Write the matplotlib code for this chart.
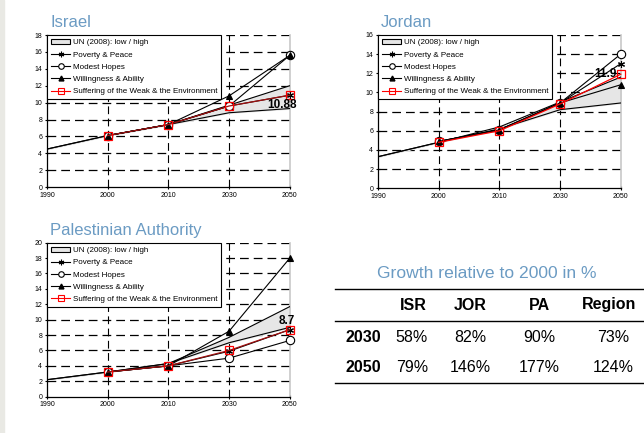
import matplotlib
matplotlib.use("Agg")
import matplotlib.pyplot as plt
from matplotlib.patches import Patch
from matplotlib.lines import Line2D
import numpy as np

plt.rcParams['font.family'] = ['Liberation Sans', 'DejaVu Sans']

years = ["1990", "2000", "2010", "2030", "2050"]

# Israel
isr_un_low = [4.5, 6.1, 7.4, 8.8, 9.3]
isr_un_high = [4.5, 6.1, 7.4, 9.7, 12.0]
isr_poverty = [None, 6.1, 7.4, 9.6, 10.88]
isr_modest = [None, 6.1, 7.4, 9.6, 15.6]
isr_willing = [None, 6.1, 7.4, 10.8, 15.6]
isr_suffer = [None, 6.1, 7.4, 9.6, 10.88]

# Jordan
jor_un_low = [3.3, 4.8, 6.2, 8.2, 8.9]
jor_un_high = [3.3, 4.8, 6.4, 9.0, 11.6]
jor_poverty = [None, 4.9, 6.1, 8.9, 13.0]
jor_modest = [None, 4.9, 6.1, 8.9, 14.0]
jor_willing = [None, 4.9, 6.1, 8.9, 10.8]
jor_suffer = [None, 4.8, 6.0, 8.8, 11.9]

# Palestinian Authority
pa_un_low = [2.2, 3.2, 4.3, 7.0, 9.0]
pa_un_high = [2.2, 3.2, 4.3, 7.7, 11.7]
pa_poverty = [None, 3.2, 4.0, 5.9, 8.7]
pa_modest = [None, 3.2, 4.0, 5.0, 7.3]
pa_willing = [None, 3.2, 4.0, 8.5, 18.0]
pa_suffer = [None, 3.2, 4.0, 6.0, 8.7]

# Table
tbl_title = "Growth relative to 2000 in %"
tbl_cols = ["ISR", "JOR", "PA", "Region"]
tbl_rows = ["2030", "2050"]
tbl_vals = [["58%", "82%", "90%", "73%"],
            ["79%", "146%", "177%", "124%"]]

title_color = "#6b9bc3"

fig = plt.figure(figsize=(6.44, 4.33), dpi=100)
fig.patch.set_facecolor("white")
# light strip on left edge
fig.add_artist(plt.Rectangle((0, 0), 4 / 644, 1, transform=fig.transFigure,
                             color="#e9e9e4", zorder=0))


def arr(v):
    return np.array([np.nan if a is None else a for a in v], dtype=float)


def panel(rect, title, low, high, pov, mod, wil, suf, ymax, red_color,
          label, label_xy):
    ax = fig.add_axes(rect)
    x = np.arange(len(years))
    ax.set_xlim(0, 4)
    ax.set_ylim(0, ymax)
    # grid
    for yv in np.arange(2, ymax + 0.1, 2):
        ax.plot([0, 4], [yv, yv], color="black", lw=0.9,
                dashes=(7, 4), zorder=1)
    for xv in [1, 2, 3]:
        ax.plot([xv, xv], [0, ymax], color="black", lw=0.8,
                dashes=(7, 4), zorder=1)
    lo, hi = arr(low), arr(high)
    ax.fill_between(x, lo, hi, color="#e6e6e6", zorder=2)
    ax.plot(x, lo, color="black", lw=0.8, zorder=3)
    ax.plot(x, hi, color="black", lw=0.8, zorder=3)
    ms = 5
    ax.plot(x, arr(pov), color="black", lw=0.8, marker=(6, 2, 0),
            ms=ms, mew=0.8, zorder=4, clip_on=False)
    ax.plot(x, arr(mod), color="black", lw=0.8, marker="o", mfc="white",
            ms=ms + 1, mew=0.8, zorder=4, clip_on=False)
    ax.plot(x, arr(wil), color="black", lw=0.8, marker="^", mfc="black",
            ms=ms - 1, mew=0.8, zorder=4, clip_on=False)
    ax.plot(x, arr(suf), color=red_color, lw=0.9, marker="s", mfc="none",
            mec="red", ms=ms + 1, mew=0.9, zorder=5, clip_on=False)
    ax.text(label_xy[0], label_xy[1], label, fontsize=8.5,
            fontweight="bold", ha="center", va="center", zorder=6)

    ax.set_xticks(x)
    ax.set_xticklabels(years, fontsize=5)
    ax.set_yticks(np.arange(0, ymax + 0.1, 2))
    ax.set_yticklabels([f"{int(v)}" for v in np.arange(0, ymax + 0.1, 2)],
                       fontsize=5)
    ax.tick_params(axis="both", length=3, width=0.8, pad=2, direction="inout")
    ax.spines["top"].set_visible(False)
    ax.spines["right"].set_color("#c8c8c8")
    ax.spines["right"].set_linewidth(1.2)
    ax.spines["left"].set_linewidth(0.9)
    ax.spines["bottom"].set_linewidth(0.9)

    handles = [
        Patch(facecolor="#e6e6e6", edgecolor="black", lw=0.8),
        Line2D([], [], color="black", lw=0.8, marker=(6, 2, 0), ms=4, mew=0.8),
        Line2D([], [], color="black", lw=0.8, marker="o", mfc="white", ms=4, mew=0.8),
        Line2D([], [], color="black", lw=0.8, marker="^", ms=3.5),
        Line2D([], [], color="red", lw=0.8, marker="s", mfc="none", mec="red", ms=4.5, mew=0.8),
    ]
    labels = ["UN (2008): low / high", "Poverty & Peace", "Modest Hopes",
              "Willingness & Ability",
              "Suffering of the Weak & the Environment"]
    leg = ax.legend(handles, labels, loc="upper left", bbox_to_anchor=(0, 1),
                    fontsize=5.8, frameon=True, fancybox=False,
                    edgecolor="black", framealpha=1, borderpad=0.5,
                    labelspacing=0.6, handlelength=2.4, handletextpad=0.3,
                    borderaxespad=0, handleheight=0.6)
    leg.get_frame().set_linewidth(0.8)
    leg.set_zorder(10)
    fig.text(rect[0] + 0.005, rect[1] + rect[3] + 0.012, title,
             fontsize=12, color=title_color, ha="left", va="bottom")
    return ax


panel([0.073, 0.568, 0.377, 0.351], "Israel", isr_un_low, isr_un_high,
      isr_poverty, isr_modest, isr_willing, isr_suffer, 18, "#a01010",
      "10.88", (3.87, 9.75))
panel([0.587, 0.565, 0.377, 0.3545], "Jordan", jor_un_low, jor_un_high,
      jor_poverty, jor_modest, jor_willing, jor_suffer, 16, "red",
      "11.9", (3.74, 11.95))
panel([0.073, 0.084, 0.377, 0.3555], "Palestinian Authority", pa_un_low,
      pa_un_high, pa_poverty, pa_modest, pa_willing, pa_suffer, 20,
      "#a01010", "8.7", (3.95, 9.8))

# Table
H = 433.0
W = 644.0


def fy(py):
    return 1 - py / H


def fx(px):
    return px / W


fig.text(fx(487), fy(273), tbl_title, fontsize=12.6, color=title_color,
         ha="center", va="center")
for py in [289, 321, 383]:
    fig.add_artist(Line2D([fx(335), fx(644)], [fy(py), fy(py)],
                          transform=fig.transFigure, color="black", lw=1.0))
col_x = [413, 470, 539, 609]
val_x = [412, 470, 539, 613]
for cx, c in zip(col_x, tbl_cols):
    fig.text(fx(cx), fy(305), c, fontsize=11.5, fontweight="bold",
             ha="center", va="center")
row_y = [337, 367]
for ry, r, vals in zip(row_y, tbl_rows, tbl_vals):
    fig.text(fx(363), fy(ry), r, fontsize=11.5, fontweight="bold",
             ha="center", va="center")
    for vx, v in zip(val_x, vals):
        fig.text(fx(vx), fy(ry), v, fontsize=11.5, ha="center", va="center")

fig.savefig("out.png", dpi=100)
